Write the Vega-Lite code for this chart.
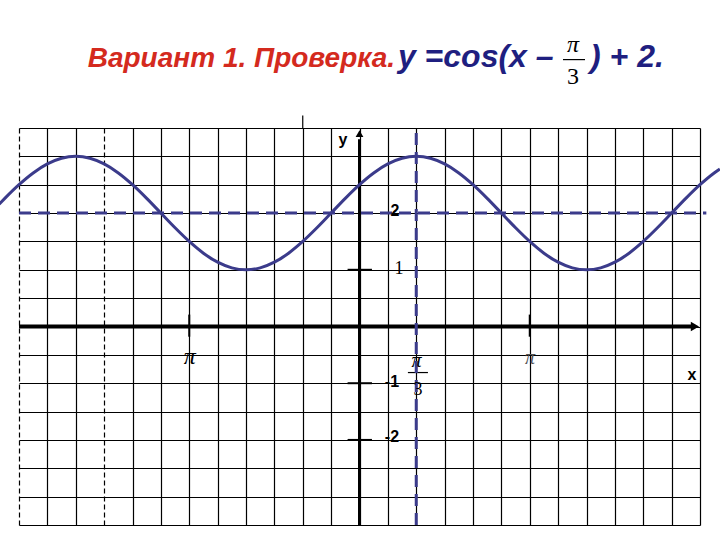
{
  "$schema": "https://vega.github.io/schema/vega-lite/v6.json",
  "width": 681,
  "height": 397,
  "autosize": {"type": "none"},
  "padding": {"left": 19, "top": 128, "right": 20, "bottom": 15},
  "background": "white",
  "config": {"view": {"stroke": null}},
  "datasets": {
    "curve": [
      {"x": -6.650, "y": 2.156}, {"x": -6.545, "y": 2.2588}, {"x": -6.2832, "y": 2.5}, {"x": -6.0214, "y": 2.7071},
      {"x": -5.7596, "y": 2.866}, {"x": -5.4978, "y": 2.9659}, {"x": -5.236, "y": 3}, {"x": -4.9742, "y": 2.9659},
      {"x": -4.7124, "y": 2.866}, {"x": -4.4506, "y": 2.7071}, {"x": -4.1888, "y": 2.5}, {"x": -3.927, "y": 2.2588},
      {"x": -3.6652, "y": 2}, {"x": -3.4034, "y": 1.7412}, {"x": -3.1416, "y": 1.5}, {"x": -2.8798, "y": 1.2929},
      {"x": -2.618, "y": 1.134}, {"x": -2.3562, "y": 1.0341}, {"x": -2.0944, "y": 1}, {"x": -1.8326, "y": 1.0341},
      {"x": -1.5708, "y": 1.134}, {"x": -1.309, "y": 1.2929}, {"x": -1.0472, "y": 1.5}, {"x": -0.7854, "y": 1.7412},
      {"x": -0.5236, "y": 2}, {"x": -0.2618, "y": 2.2588}, {"x": 0, "y": 2.5}, {"x": 0.2618, "y": 2.7071},
      {"x": 0.5236, "y": 2.866}, {"x": 0.7854, "y": 2.9659}, {"x": 1.0472, "y": 3}, {"x": 1.309, "y": 2.9659},
      {"x": 1.5708, "y": 2.866}, {"x": 1.8326, "y": 2.7071}, {"x": 2.0944, "y": 2.5}, {"x": 2.3562, "y": 2.2588},
      {"x": 2.618, "y": 2}, {"x": 2.8798, "y": 1.7412}, {"x": 3.1416, "y": 1.5}, {"x": 3.4034, "y": 1.2929},
      {"x": 3.6652, "y": 1.134}, {"x": 3.927, "y": 1.0341}, {"x": 4.1888, "y": 1}, {"x": 4.4506, "y": 1.0341},
      {"x": 4.7124, "y": 1.134}, {"x": 4.9742, "y": 1.2929}, {"x": 5.236, "y": 1.5}, {"x": 5.4978, "y": 1.7412},
      {"x": 5.7596, "y": 2}, {"x": 6.0214, "y": 2.2588}, {"x": 6.2832, "y": 2.5}, {"x": 6.545, "y": 2.7071},
      {"x": 6.650, "y": 2.777}
    ],
    "rules": [
      {"g": "axisX", "x": -6.2832, "x2": 6.12, "y": 0, "y2": 0},
      {"g": "axisY", "x": 0, "x2": 0, "y": -3.5, "y2": 3.3},
      {"g": "tick", "x": -0.22, "x2": 0.23, "y": 1, "y2": 1},
      {"g": "tick", "x": -0.22, "x2": 0.23, "y": -1, "y2": -1},
      {"g": "tick", "x": -0.22, "x2": 0.23, "y": -2, "y2": -2},
      {"g": "tick", "x": -3.1416, "x2": -3.1416, "y": -0.18, "y2": 0.21},
      {"g": "tick", "x": 3.1416, "x2": 3.1416, "y": -0.18, "y2": 0.21},
      {"g": "dashH", "x": -6.2832, "x2": 6.4, "y": 2, "y2": 2},
      {"g": "dashV", "x": 1.0472, "x2": 1.0472, "y": -3.5, "y2": 3.5},
      {"g": "thin", "x": -1.0472, "x2": -1.0472, "y": 3.5, "y2": 3.72},
      {"g": "thin", "x": 0.893, "x2": 1.263, "y": -0.812, "y2": -0.812},
      {"g": "thin", "x": 3.755, "x2": 4.161, "y": 4.706, "y2": 4.706}
    ],
    "arrows": [
      {"g": "right", "x": 6.19, "y": 0},
      {"g": "up", "x": 0, "y": 3.4}
    ],
    "labels": [
      {"k": "axisName", "text": "y", "x": -0.306, "y": 3.294},
      {"k": "axisName", "text": "x", "x": 6.137, "y": -0.852},
      {"k": "num", "text": "2", "x": 0.653, "y": 2.03},
      {"k": "num", "text": "-1", "x": 0.599, "y": -0.97},
      {"k": "num", "text": "-2", "x": 0.599, "y": -1.946},
      {"k": "serifNum", "text": "1", "x": 0.727, "y": 1.018},
      {"k": "serifNum", "text": "3", "x": 1.078, "y": -1.117},
      {"k": "pi", "text": "π", "x": -3.13, "y": -0.53},
      {"k": "piSmall", "text": "π", "x": 1.054, "y": -0.605},
      {"k": "piGray", "text": "π", "x": 3.146, "y": -0.55},
      {"k": "titleRed", "text": "Вариант 1. Проверка.", "x": -5.015, "y": 4.583},
      {"k": "titleBlue", "text": "y =cos(x –", "x": 0.709, "y": 4.583},
      {"k": "titleBlue", "text": ") + 2.", "x": 4.254, "y": 4.583},
      {"k": "titlePi", "text": "π", "x": 3.94, "y": 4.971},
      {"k": "titleThree", "text": "3", "x": 3.94, "y": 4.406}
    ]
  },
  "encoding": {
    "x": {
      "field": "x", "type": "quantitative",
      "scale": {"domain": [-6.2832, 6.2832], "nice": false, "zero": false},
      "axis": {
        "values": [-6.2832, -5.7596, -5.236, -4.7124, -4.1888, -3.6652, -3.1416, -2.618, -2.0944, -1.5708, -1.0472, -0.5236, 0, 0.5236, 1.0472, 1.5708, 2.0944, 2.618, 3.1416, 3.6652, 4.1888, 4.7124, 5.236, 5.7596, 6.2832],
        "grid": true, "gridColor": "#000000", "gridOpacity": 1, "gridWidth": 1.2,
        "gridDash": {"condition": {"test": "abs(datum.value + 6.2832) < 0.01 || abs(datum.value + 4.7124) < 0.01", "value": [5, 3]}, "value": []},
        "labels": false, "ticks": false, "domain": false, "title": null
      }
    },
    "y": {
      "field": "y", "type": "quantitative",
      "scale": {"domain": [-3.5, 3.5], "nice": false, "zero": false},
      "axis": {
        "values": [-3.5, -3, -2.5, -2, -1.5, -1, -0.5, 0, 0.5, 1, 1.5, 2, 2.5, 3, 3.5],
        "grid": true, "gridColor": "#000000", "gridOpacity": 1, "gridWidth": 1.2,
        "labels": false, "ticks": false, "domain": false, "title": null
      }
    }
  },
  "layer": [
    {
      "data": {"name": "rules"},
      "transform": [{"filter": "datum.g == 'axisX'"}],
      "mark": {"type": "rule", "color": "#000000", "strokeWidth": 4},
      "encoding": {"x2": {"field": "x2"}, "y2": {"field": "y2"}}
    },
    {
      "data": {"name": "rules"},
      "transform": [{"filter": "datum.g == 'axisY'"}],
      "mark": {"type": "rule", "color": "#000000", "strokeWidth": 3},
      "encoding": {"x2": {"field": "x2"}, "y2": {"field": "y2"}}
    },
    {
      "data": {"name": "rules"},
      "transform": [{"filter": "datum.g == 'tick'"}],
      "mark": {"type": "rule", "color": "#000000", "strokeWidth": 2},
      "encoding": {"x2": {"field": "x2"}, "y2": {"field": "y2"}}
    },
    {
      "data": {"name": "rules"},
      "transform": [{"filter": "datum.g == 'thin'"}],
      "mark": {"type": "rule", "color": "#000000", "strokeWidth": 1.2},
      "encoding": {"x2": {"field": "x2"}, "y2": {"field": "y2"}}
    },
    {
      "data": {"name": "arrows"},
      "transform": [{"filter": "datum.g == 'right'"}],
      "mark": {"type": "point", "shape": "triangle-right", "filled": true, "color": "#000000", "size": 90, "opacity": 1}
    },
    {
      "data": {"name": "arrows"},
      "transform": [{"filter": "datum.g == 'up'"}],
      "mark": {"type": "point", "shape": "triangle-up", "filled": true, "color": "#000000", "size": 60, "opacity": 1}
    },
    {
      "data": {"name": "rules"},
      "transform": [{"filter": "datum.g == 'dashH' || datum.g == 'dashV'"}],
      "mark": {"type": "rule", "color": "#3b3b8b", "strokeWidth": 3, "strokeDash": [12, 7]},
      "encoding": {"x2": {"field": "x2"}, "y2": {"field": "y2"}}
    },
    {
      "data": {"name": "curve"},
      "mark": {"type": "line", "color": "#3b3b8b", "strokeWidth": 3, "interpolate": "monotone"},
      "encoding": {}
    },
    {
      "data": {"name": "labels"},
      "transform": [{"filter": "datum.k == 'axisName'"}],
      "mark": {"type": "text", "font": "Liberation Sans", "fontWeight": "bold", "fontSize": 16, "align": "center", "baseline": "middle", "color": "#000000"},
      "encoding": {"text": {"field": "text"}}
    },
    {
      "data": {"name": "labels"},
      "transform": [{"filter": "datum.k == 'num'"}],
      "mark": {"type": "text", "font": "Liberation Sans", "fontWeight": "bold", "fontSize": 16, "align": "center", "baseline": "middle", "color": "#000000"},
      "encoding": {"text": {"field": "text"}}
    },
    {
      "data": {"name": "labels"},
      "transform": [{"filter": "datum.k == 'serifNum'"}],
      "mark": {"type": "text", "font": "Liberation Serif", "fontSize": 18, "align": "center", "baseline": "middle", "color": "#000000"},
      "encoding": {"text": {"field": "text"}}
    },
    {
      "data": {"name": "labels"},
      "transform": [{"filter": "datum.k == 'pi'"}],
      "mark": {"type": "text", "font": "Liberation Serif", "fontStyle": "italic", "fontSize": 24, "align": "center", "baseline": "middle", "color": "#000000"},
      "encoding": {"text": {"field": "text"}}
    },
    {
      "data": {"name": "labels"},
      "transform": [{"filter": "datum.k == 'piSmall'"}],
      "mark": {"type": "text", "font": "Liberation Serif", "fontStyle": "italic", "fontSize": 20, "align": "center", "baseline": "middle", "color": "#000000"},
      "encoding": {"text": {"field": "text"}}
    },
    {
      "data": {"name": "labels"},
      "transform": [{"filter": "datum.k == 'piGray'"}],
      "mark": {"type": "text", "font": "Liberation Serif", "fontStyle": "italic", "fontSize": 20, "align": "center", "baseline": "middle", "color": "#555555"},
      "encoding": {"text": {"field": "text"}}
    },
    {
      "data": {"name": "labels"},
      "transform": [{"filter": "datum.k == 'titleRed'"}],
      "mark": {"type": "text", "font": "Liberation Sans", "fontWeight": "bold", "fontStyle": "italic", "fontSize": 28, "align": "left", "baseline": "alphabetic", "color": "#d42a1e"},
      "encoding": {"text": {"field": "text"}}
    },
    {
      "data": {"name": "labels"},
      "transform": [{"filter": "datum.k == 'titleBlue'"}],
      "mark": {"type": "text", "font": "Liberation Sans", "fontWeight": "bold", "fontStyle": "italic", "fontSize": 32, "align": "left", "baseline": "alphabetic", "color": "#1f1f80"},
      "encoding": {"text": {"field": "text"}}
    },
    {
      "data": {"name": "labels"},
      "transform": [{"filter": "datum.k == 'titlePi'"}],
      "mark": {"type": "text", "font": "Liberation Serif", "fontStyle": "italic", "fontSize": 24, "align": "center", "baseline": "middle", "color": "#000000"},
      "encoding": {"text": {"field": "text"}}
    },
    {
      "data": {"name": "labels"},
      "transform": [{"filter": "datum.k == 'titleThree'"}],
      "mark": {"type": "text", "font": "Liberation Serif", "fontSize": 24, "align": "center", "baseline": "middle", "color": "#000000"},
      "encoding": {"text": {"field": "text"}}
    }
  ]
}
